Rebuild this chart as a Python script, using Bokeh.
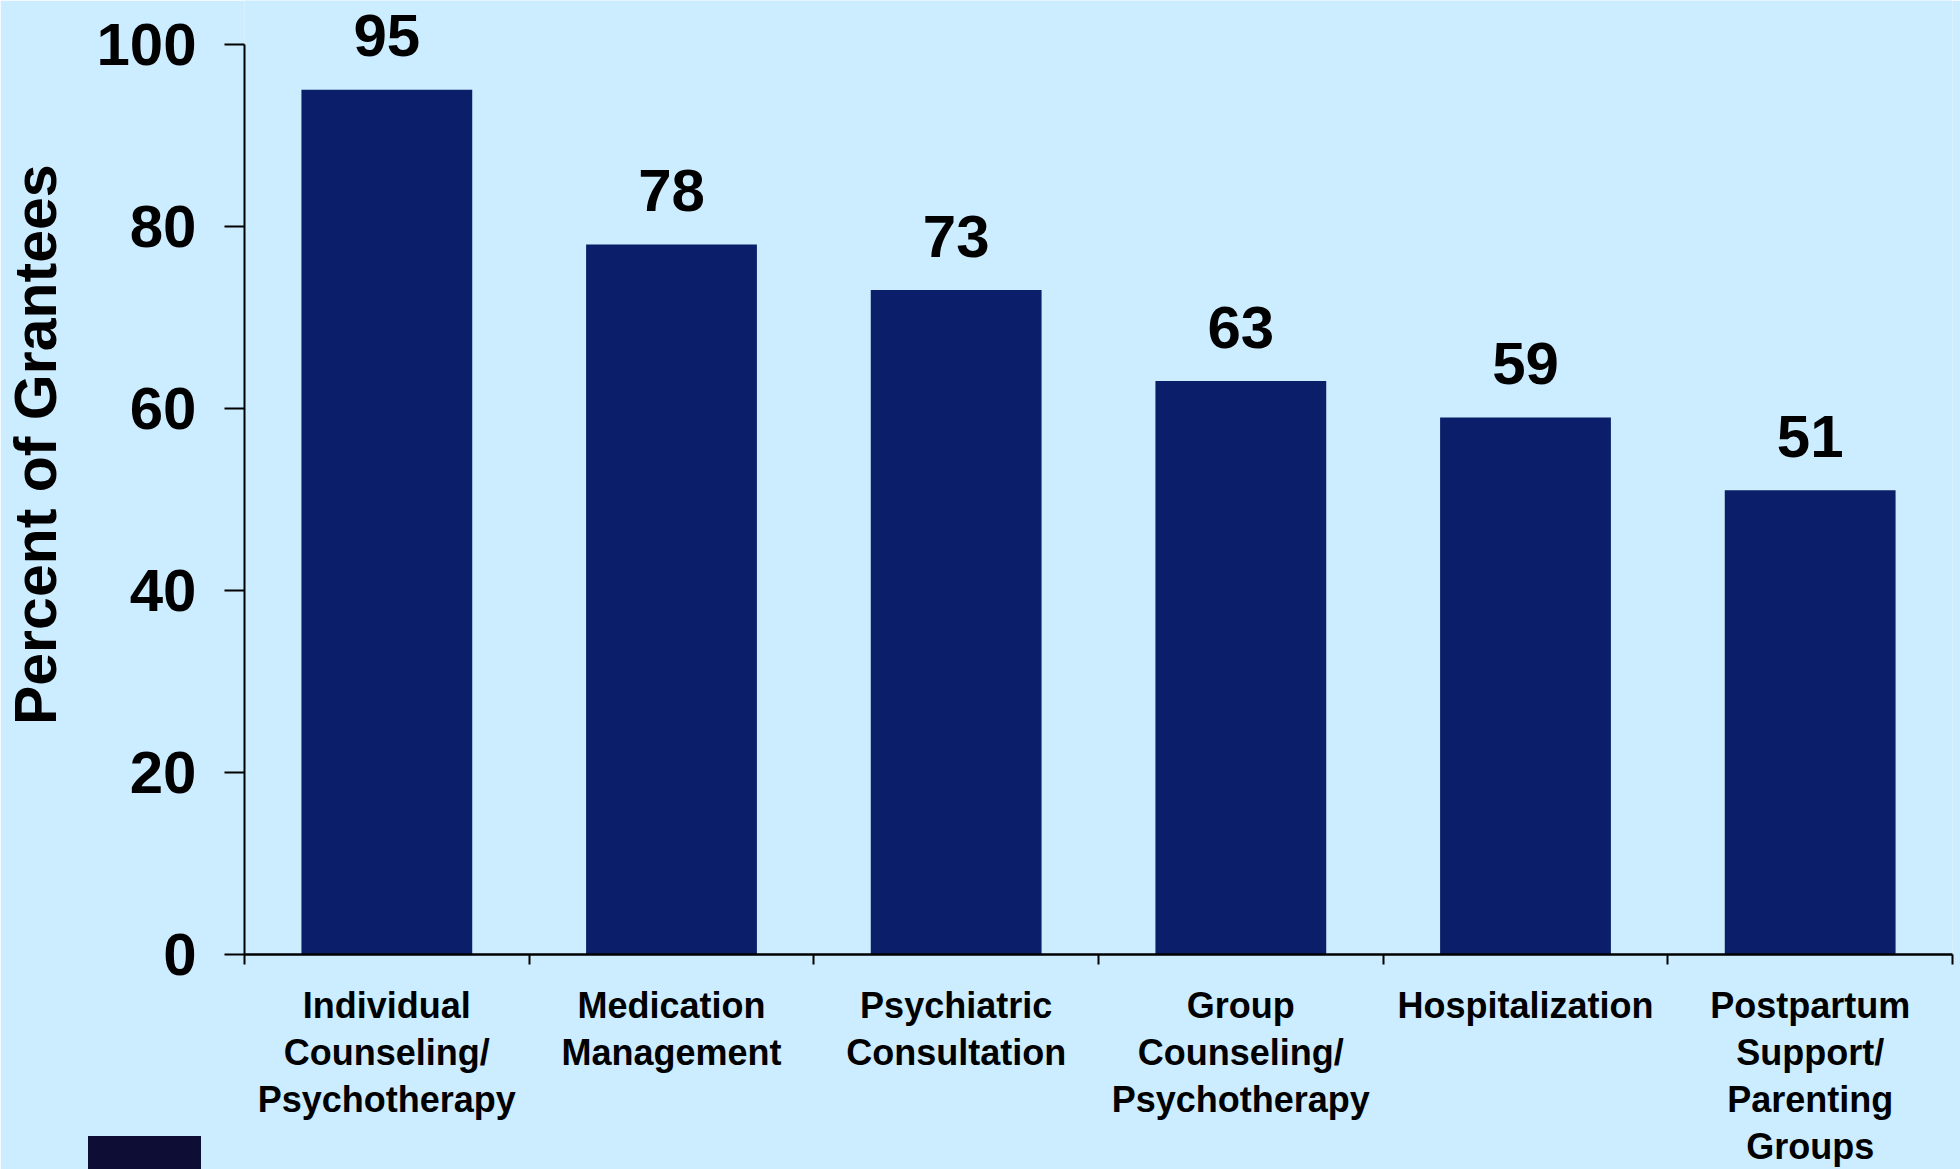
from bokeh.plotting import figure
from bokeh.models import (Range1d, FactorRange, LinearAxis, CategoricalAxis, FixedTicker,
                          ColumnDataSource, Div)
from bokeh.layouts import column
from bokeh.core.properties import value
from bokeh.embed import file_html
from bokeh.resources import INLINE

# ---- data ----
categories = ["Individual\nCounseling/\nPsychotherapy", "Medication\nManagement",
              "Psychiatric\nConsultation", "Group\nCounseling/\nPsychotherapy",
              "Hospitalization", "Postpartum\nSupport/\nParenting\nGroups"]
values = [95, 78, 73, 63, 59, 51]
y_ticks = [0, 20, 40, 60, 80, 100]
y_label = "Percent of Grantees"

BG = "#CCECFF"
BAR = "#0A1E69"
SWATCH = "#0E0D35"
FONT = "Liberation Sans"

n = len(categories)
src = ColumnDataSource(dict(cat=categories, val=values, lab=[str(v) for v in values]))

p = figure(width=1960, height=1169, output_backend="svg", toolbar_location=None,
           x_range=FactorRange(factors=categories), y_range=Range1d(0, 104.82),
           x_axis_type=None, y_axis_type=None,
           min_border_left=244, min_border_right=8, min_border_top=0, min_border_bottom=213)
p.background_fill_color = BG
p.border_fill_color = BG
p.outline_line_color = None

# y axis
yax = LinearAxis(ticker=FixedTicker(ticks=y_ticks),
                 axis_label="\u00a0\u00a0\u00a0\u00a0" + y_label, bounds=(0, 100))
yax.axis_line_color = "black"
yax.axis_line_width = 2
yax.major_tick_line_color = "black"
yax.major_tick_line_width = 2
yax.major_tick_out = 20
yax.major_tick_in = 0
yax.minor_tick_line_color = None
yax.major_label_standoff = 28
yax.major_label_text_font = FONT
yax.major_label_text_font_style = "bold"
yax.major_label_text_font_size = "60px"
yax.major_label_text_color = "black"
yax.axis_label_text_font = FONT
yax.axis_label_text_font_style = "bold"
yax.axis_label_text_font_size = "59px"
yax.axis_label_text_color = "black"
yax.axis_label_standoff = 24
p.add_layout(yax, "left")

# x axis line with ticks at category boundaries (synthetic coordinates 0..n)
bounds_ticks = list(range(n + 1))
xax = LinearAxis(ticker=FixedTicker(ticks=bounds_ticks),
                 major_label_overrides={t: "" for t in bounds_ticks})
xax.axis_line_color = "black"
xax.axis_line_width = 2.5
xax.major_tick_line_color = "black"
xax.major_tick_line_width = 2
xax.major_tick_out = 10
xax.major_tick_in = 0
xax.minor_tick_line_color = None
xax.major_label_text_font_size = "1px"
xax.major_label_standoff = 0
p.add_layout(xax, "below")

# category labels
cax = CategoricalAxis()
cax.axis_line_color = None
cax.major_tick_line_color = None
cax.major_tick_out = 0
cax.major_tick_in = 0
cax.minor_tick_line_color = None
cax.major_label_standoff = 20
cax.major_label_text_font = FONT
cax.major_label_text_font_style = "bold"
cax.major_label_text_font_size = "36px"
cax.major_label_text_color = "black"
cax.major_label_text_line_height = 1.15
p.add_layout(cax, "below")

# bars
p.vbar(x="cat", top="val", width=0.6, source=src, fill_color=BAR, line_color=None)

# value labels
p.text(x="cat", y="val", text="lab", source=src,
       text_align="center", text_baseline="alphabetic", y_offset=-54,
       text_font=value(FONT), text_font_style="bold", text_font_size="60px",
       text_color="black")

# partially visible legend swatch at the bottom-left
swatch = Div(text="", width=113, height=38,
             styles={"position": "absolute", "left": "83px", "top": "1131px",
                     "background-color": SWATCH})

open("out.html", "w").write(file_html(column(p, swatch), INLINE))
